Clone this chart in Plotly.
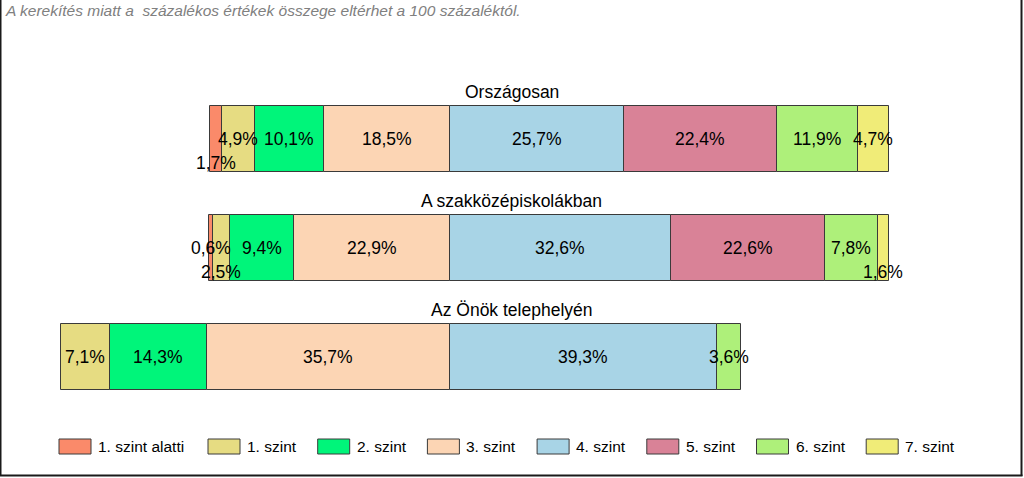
import plotly.graph_objects as go

# ---------------- data ----------------
groups = ["Országosan", "A szakközépiskolákban", "Az Önök telephelyén"]
levels = ["1. szint alatti", "1. szint", "2. szint", "3. szint",
          "4. szint", "5. szint", "6. szint", "7. szint"]
orszagosan = [1.7, 4.9, 10.1, 18.5, 25.7, 22.4, 11.9, 4.7]
szakkozep = [0.6, 2.5, 9.4, 22.9, 32.6, 22.6, 7.8, 1.6]
telephely = [0.0, 7.1, 14.3, 35.7, 39.3, 0.0, 3.6, 0.0]
note = "A kerekítés miatt a  százalékos értékek összege eltérhet a 100 százaléktól."

series = [orszagosan, szakkozep, telephely]
colors = ["#FA8A6A", "#E6DC82", "#00F57A", "#FCD5B4",
          "#A8D4E6", "#D98297", "#AEF07A", "#F0EC78"]
N_LEFT = 4  # levels drawn left of the zero line (below 4. szint)

# ---------------- layout constants ----------------
W, H = 1024, 478
FONT = "Liberation Sans, Arial, sans-serif"
PX_PER_PCT = 6.80
CENTER_PX = 449.5
xmin = -CENTER_PX / PX_PER_PCT
xmax = (W - CENTER_PX) / PX_PER_PCT
ROW_PX = 109.0
FIRST_ROW_PX = 138.5
ytop = -FIRST_ROW_PX / ROW_PX
ybot = (H - FIRST_ROW_PX) / ROW_PX
BAR_W = 66.0 / ROW_PX
shifted = {(0, 0), (1, 1), (1, 7)}  # labels nudged down to avoid overlap


def px(x):
    return x / W


def py(y):
    return 1 - y / H


def fmt(v):
    return f"{v:.1f}".replace(".", ",") + "%"


# bases of each segment
bases = []
for vals in series:
    start = -sum(vals[:N_LEFT])
    b = []
    for v in vals:
        b.append(start)
        start += v
    bases.append(b)

fig = go.Figure()
ys = list(range(len(groups)))
for j, lvl in enumerate(levels):
    xv = [series[i][j] if series[i][j] > 0 else None for i in ys]
    fig.add_trace(go.Bar(
        orientation="h", y=ys, x=xv, base=[bases[i][j] for i in ys],
        width=BAR_W, name=lvl, showlegend=False,
        marker=dict(color=colors[j], line=dict(color="#3a3a3a", width=1)),
        hoverinfo="skip",
    ))

annotations = []
# value labels
for i in ys:
    for j, v in enumerate(series[i]):
        if v <= 0:
            continue
        annotations.append(dict(
            x=bases[i][j] + v / 2, y=i, xref="x", yref="y",
            text=fmt(v), showarrow=False, xanchor="center", yanchor="middle",
            yshift=-24 if (i, j) in shifted else 0,
            font=dict(family=FONT, size=17.5, color="#000000"),
        ))
# group titles
for i, g in enumerate(groups):
    annotations.append(dict(
        x=px(511.5), y=i - 47.0 / ROW_PX, xref="paper", yref="y",
        text=g, showarrow=False, xanchor="center", yanchor="middle",
        font=dict(family=FONT, size=17.5, color="#000000"),
    ))
# note
annotations.append(dict(
    x=px(3), y=py(10), xref="paper", yref="paper", text=note,
    showarrow=False, xanchor="left", yanchor="middle",
    font=dict(family=FONT, size=15.5, color="#808080", style="italic"),
))

shapes = []
# manual legend
for j, lvl in enumerate(levels):
    x0 = 59 if j == 0 else 208 + 109.7 * (j - 1)
    shapes.append(dict(
        type="rect", xref="paper", yref="paper",
        x0=px(x0), x1=px(x0 + 32), y0=py(454), y1=py(439),
        fillcolor=colors[j], line=dict(color="#3a3a3a", width=1),
    ))
    annotations.append(dict(
        x=px(x0 + 37), y=py(446.5), xref="paper", yref="paper", text=lvl,
        showarrow=False, xanchor="left", yanchor="middle",
        font=dict(family=FONT, size=15.5, color="#000000"),
    ))
# outer frame (left, right, bottom)
shapes.append(dict(type="line", xref="paper", yref="paper",
                   x0=px(0.75), x1=px(0.75), y0=py(0), y1=py(476),
                   line=dict(color="#1a1a1a", width=1.5)))
shapes.append(dict(type="line", xref="paper", yref="paper",
                   x0=px(1021.5), x1=px(1021.5), y0=py(0), y1=py(476),
                   line=dict(color="#1a1a1a", width=2)))
shapes.append(dict(type="line", xref="paper", yref="paper",
                   x0=px(0), x1=px(1022.5), y0=py(475.5), y1=py(475.5),
                   line=dict(color="#1a1a1a", width=2)))

fig.update_layout(
    width=W, height=H, margin=dict(l=0, r=0, t=0, b=0),
    paper_bgcolor="white", plot_bgcolor="white",
    barmode="overlay", bargap=0,
    xaxis=dict(range=[xmin, xmax], visible=False, fixedrange=True),
    yaxis=dict(range=[ybot, ytop], visible=False, fixedrange=True),
    annotations=annotations, shapes=shapes,
)

fig.write_html(
    "out.html",
    config={"displayModeBar": False},
    post_script="document.body.style.margin='0';document.body.style.overflow='hidden';",
)
